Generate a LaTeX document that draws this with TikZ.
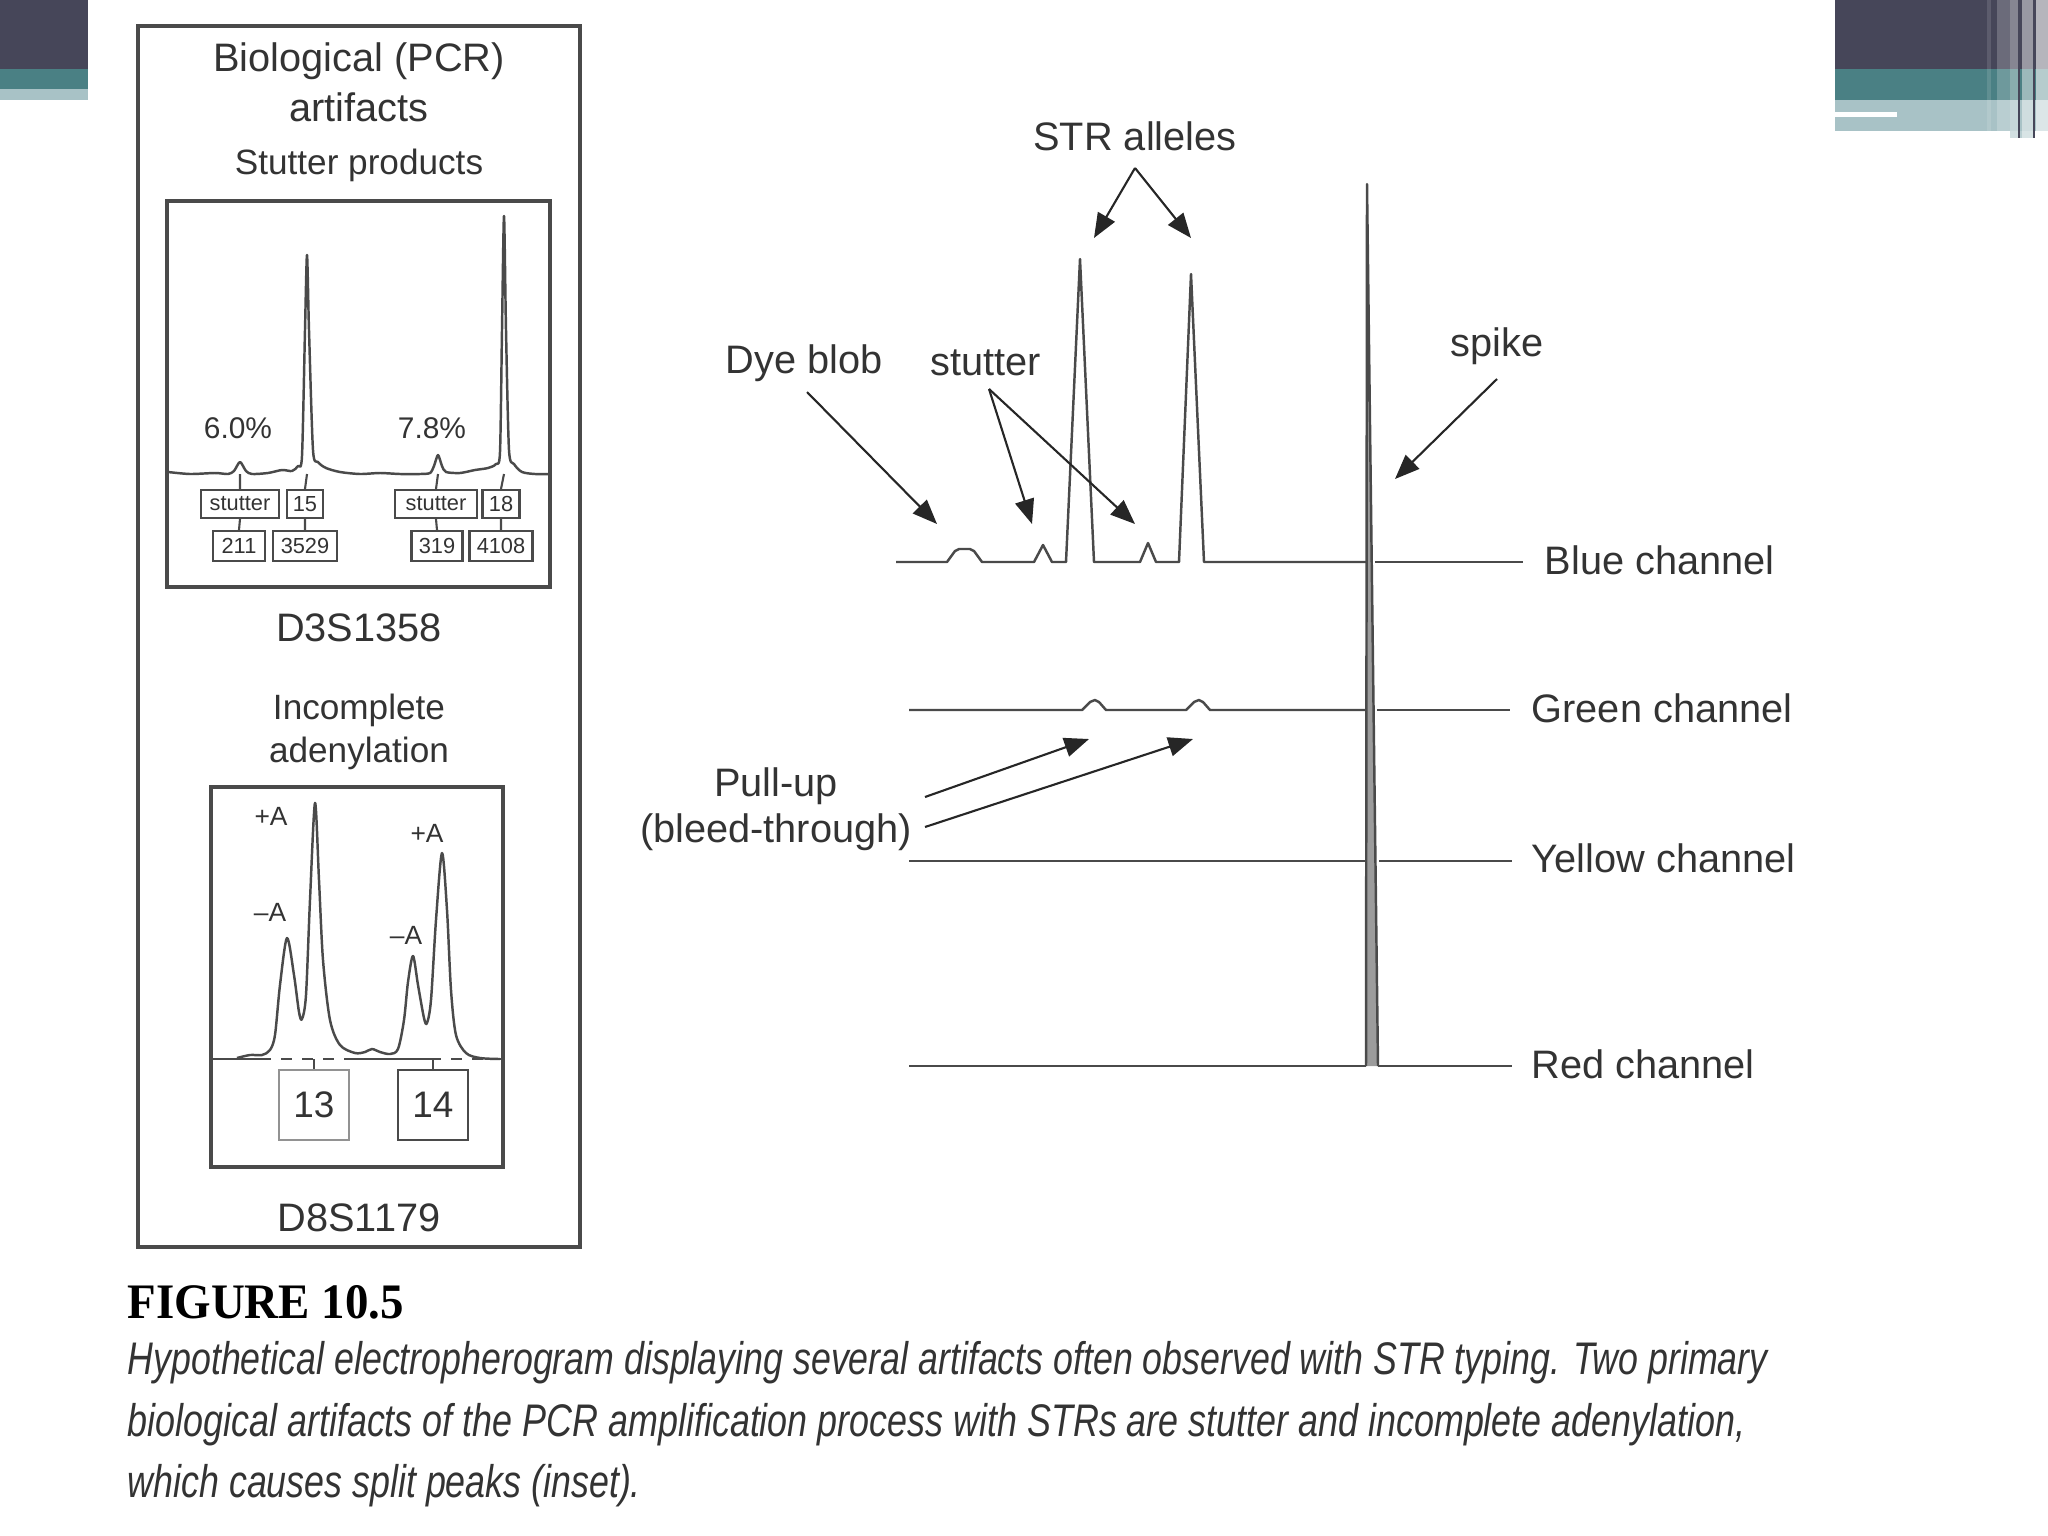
\documentclass[tikz,border=0pt]{standalone}
\usepackage{fontspec}
\usepackage{graphicx}
\setmainfont{Liberation Sans}
\newfontfamily\capserif{Liberation Serif}
\usetikzlibrary{arrows.meta}
\definecolor{ink}{HTML}{333333}
\definecolor{trc}{HTML}{4A4A4A}
\definecolor{slatedark}{HTML}{464659}
\definecolor{slateteal}{HTML}{4A8084}
\definecolor{slatelight}{HTML}{A8C2C6}
\tikzset{
  txt/.style={text=ink, inner sep=0pt, font=\fontsize{11.3}{13}\selectfont},
  smalltxt/.style={text=ink, inner sep=0pt, font=\fontsize{10}{12}\selectfont},
  frame/.style={draw=trc, line width=0.9pt},
  trace/.style={draw=trc, line width=0.7pt, line join=round},
  arr/.style={draw=black!85, line width=0.6pt, -{Triangle[length=7pt,width=5.5pt]}},
  lbl/.style={draw=trc, line width=0.6pt, inner sep=0pt, text=ink, font=\fontsize{6.2}{7}\selectfont},
  bigbox/.style={draw=trc, line width=0.8pt, inner sep=0pt, minimum width=0.70cm, minimum height=0.70cm, text=ink, font=\fontsize{10.5}{12}\selectfont},
}
\begin{document}
\begin{tikzpicture}[x=0.01cm,y=-0.01cm]
\useasboundingbox (0,0) rectangle (2048,1536);
% slide decorations
\fill[slatedark] (0,0) rectangle (88,69);
\fill[slateteal] (0,69) rectangle (88,89);
\fill[slatelight] (0,89) rectangle (88,100);
\fill[slatedark] (1835,0) rectangle (2048,69);
\fill[slateteal] (1835,69) rectangle (2048,100);
\fill[slatelight] (1835,100) rectangle (2048,131);
\fill[white] (1835,112) rectangle (1897,117);
\fill[slatelight!80] (2010,131) rectangle (2035,138);
\fill[white,opacity=0.12] (1987,0) rectangle (1991,131);
\fill[white,opacity=0.2] (1997,0) rectangle (2010,131);
\fill[white,opacity=0.35] (2010,0) rectangle (2018,138);
\fill[white,opacity=0.45] (2022,0) rectangle (2033,138);
\fill[white,opacity=0.6] (2036,0) rectangle (2048,131);
\draw[slatedark,line width=0.5pt] (2019,0) -- (2019,138);
\draw[slatedark,line width=0.5pt] (2034,0) -- (2034,138);

% ---------- left panel ----------
\draw[frame] (138,26) rectangle (580,1247);
\node[txt] (t1) at (359,61) {Biological (PCR)};
\node[txt] (t2) at (359,107) {artifacts};
\node[smalltxt] (t3) at (359,165) {Stutter products};
\draw[frame] (167,201) rectangle (550,587);
\draw[trace] plot[smooth, tension=0.45] coordinates {
 (168,472) (190,474) (215,473) (228,474) (234,471) (240,462) (246,471) (252,474)
 (268,473) (282,470) (292,471) (298,466) (302,456) (305,330) (307,255) (309,330)
 (313,450) (318,462) (326,468) (340,472) (360,474) (380,473) (400,474) (420,474)
 (430,473) (434,466) (438,455) (442,466) (446,472) (460,473) (475,470) (488,468)
 (496,464) (500,452) (502,330) (504,216) (506,330) (509,450) (514,464) (522,472)
 (535,474) (549,474)};
\node[text=ink, inner sep=0pt, font=\fontsize{8.5}{10}\selectfont] (p1) at (238,428) {6.0\%};
\node[text=ink, inner sep=0pt, font=\fontsize{8.5}{10}\selectfont] (p2) at (432,428) {7.8\%};
\node[lbl, minimum width=0.78cm, minimum height=0.28cm] (s1) at (240,504) {stutter};
\node[lbl, minimum width=0.36cm, minimum height=0.28cm] (n15) at (305,504) {15};
\node[lbl, minimum width=0.52cm, minimum height=0.30cm] (n211) at (239,546) {211};
\node[lbl, minimum width=0.64cm, minimum height=0.30cm] (n3529) at (305,546) {3529};
\node[lbl, minimum width=0.82cm, minimum height=0.28cm] (s2) at (436,504) {stutter};
\node[lbl, minimum width=0.37cm, minimum height=0.28cm] (n18) at (501,504) {18};
\node[lbl, minimum width=0.51cm, minimum height=0.30cm] (n319) at (437,546) {319};
\node[lbl, minimum width=0.63cm, minimum height=0.30cm] (n4108) at (501,546) {4108};
\coordinate (k1) at (240,474);
\coordinate (k2) at (307,474);
\coordinate (k3) at (438,474);
\coordinate (k4) at (504,474);
\draw[trc, line width=0.6pt] (k1) -- (s1.north) (s1.south) -- (n211.north);
\draw[trc, line width=0.6pt] (k2) -- (n15.north) (n15.south) -- (n3529.north);
\draw[trc, line width=0.6pt] (k3) -- (s2.north) (s2.south) -- (n319.north);
\draw[trc, line width=0.6pt] (k4) -- (n18.north) (n18.south) -- (n4108.north);
\node[txt] (loc1) at (359,628) {D3S1358};

\node[smalltxt] (t4) at (359,710) {Incomplete};
\node[smalltxt] (t5) at (359,753) {adenylation};
\draw[frame] (211,787) rectangle (503,1167);
\draw[trace] plot[smooth, tension=0.5] coordinates {
 (237,1058) (250,1055) (262,1055) (270,1050) (275,1035) (280,985) (287,938) (294,975)
 (299,1012) (302,1019) (306,995) (310,900) (315,803) (319,880) (323,960) (330,1020)
 (340,1045) (355,1053) (365,1052) (372,1049) (380,1052) (390,1054) (398,1049) (404,1020)
 (408,982) (413,956) (418,985) (424,1018) (427,1023) (431,1000) (436,920) (442,853)
 (447,910) (451,990) (456,1035) (466,1053) (480,1058) (500,1059)};
\draw[trc, line width=0.8pt] (212,1059) -- (260,1059);
\draw[trc, line width=0.8pt, dashed] (260,1059) -- (350,1059);
\draw[trc, line width=0.8pt] (350,1059) -- (430,1059);
\draw[trc, line width=0.8pt, dashed] (430,1059) -- (502,1059);
\node[text=ink, inner sep=0pt, font=\fontsize{7.5}{9}\selectfont] (pa1) at (271,816) {+A};
\node[text=ink, inner sep=0pt, font=\fontsize{7.5}{9}\selectfont] (ma1) at (270,912) {--A};
\node[text=ink, inner sep=0pt, font=\fontsize{7.5}{9}\selectfont] (pa2) at (427,833) {+A};
\node[text=ink, inner sep=0pt, font=\fontsize{7.5}{9}\selectfont] (ma2) at (406,935) {--A};
\node[bigbox, draw=trc!60] (b13) at (314,1105) {13};
\node[bigbox] (b14) at (433,1105) {14};
\coordinate (k5) at (314,1059);
\coordinate (k6) at (433,1059);
\draw[trc, line width=0.6pt] (k5) -- (b13.north);
\draw[trc, line width=0.6pt] (k6) -- (b14.north);
\node[txt] (loc2) at (359,1218) {D8S1179};

% ---------- right panel: channels ----------
\node[txt, anchor=west] (blue) at (1544,560) {Blue channel};
\node[txt, anchor=west] (green) at (1531,708) {Green channel};
\node[txt, anchor=west] (yellow) at (1531,858) {Yellow channel};
\node[txt, anchor=west] (red) at (1531,1064) {Red channel};
\coordinate (spikeL) at (1366,1066);
\coordinate (spikeT) at (1367,184);
\coordinate (spikeR) at (1378,1066);
\fill[trc!55] (spikeL) -- (spikeT) -- (spikeR) -- cycle;
\draw[trace] (spikeL) -- (spikeT) -- (spikeR);
% blue
\draw[trace] (896,562) -- (947,562) -- (955,551) -- (959,549) -- (970,549) -- (974,551) -- (982,562)
 -- (1034,562) -- (1043,545) -- (1052,562) -- (1066,562) -- (1080,259) -- (1094,562)
 -- (1140,562) -- (1148,543) -- (1156,562) -- (1179,562) -- (1191,274) -- (1204,562) -- (1366,562);
\draw[trace] (1375,562) -- (1523,562);
% green
\draw[trace] (909,710) -- (1082,710) -- (1090,702) -- (1095,700) -- (1099,702) -- (1106,710)
 -- (1186,710) -- (1194,702) -- (1199,700) -- (1203,702) -- (1210,710) -- (1366,710);
\draw[trace] (1377,710) -- (1510,710);
% yellow
\draw[trace] (909,861) -- (1366,861);
\draw[trace] (1379,861) -- (1512,861);
% red
\draw[trace] (909,1066) -- (spikeL);
\draw[trace] (spikeR) -- (1512,1066);

% annotations
\node[txt] (str) at (1135,136) {STR alleles};
\coordinate (strfoot) at (1135,168);
\coordinate (aL) at (1094,238);
\coordinate (aR) at (1191,238);
\draw[arr] (strfoot) -- (aL);
\draw[arr] (strfoot) -- (aR);

\node[txt] (dye) at (804,363) {Dye blob};
\coordinate (dyefoot) at (807,392);
\coordinate (dyetip) at (937,524);
\draw[arr] (dyefoot) -- (dyetip);

\node[txt] (stu) at (986,363) {stutter};
\coordinate (stufoot) at (989,389);
\coordinate (stutip1) at (1032,524);
\coordinate (stutip2) at (1135,524);
\draw[arr] (stufoot) -- (stutip1);
\draw[arr] (stufoot) -- (stutip2);

\node[txt] (spk) at (1497,346) {spike};
\coordinate (spkfoot) at (1497,379);
\coordinate (spktip) at (1395,479);
\draw[arr] (spkfoot) -- (spktip);

\node[txt] (pull) at (776,786) {Pull-up};
\node[txt] (bleed) at (776,832) {(bleed-through)};
\coordinate (pf1) at (925,797);
\coordinate (pf2) at (925,827);
\coordinate (pt1) at (1089,739);
\coordinate (pt2) at (1193,739);
\draw[arr] (pf1) -- (pt1);
\draw[arr] (pf2) -- (pt2);

% caption
\node[anchor=west, inner sep=0pt, text=black] (fig) at (127,1302)
  {\resizebox{2.76cm}{0.33cm}{\capserif\bfseries\fontsize{14}{16}\selectfont FIGURE 10.5}};
\node[anchor=west, inner sep=0pt, text=ink] (c1) at (127,1363)
  {\resizebox{16.39cm}{\height}{\itshape\fontsize{13}{15}\selectfont Hypothetical electropherogram displaying several artifacts often observed with STR typing. Two primary}};
\node[anchor=west, inner sep=0pt, text=ink] (c2) at (127,1425)
  {\resizebox{16.17cm}{\height}{\itshape\fontsize{13}{15}\selectfont biological artifacts of the PCR amplification process with STRs are stutter and incomplete adenylation,}};
\node[anchor=west, inner sep=0pt, text=ink] (c3) at (127,1486)
  {\resizebox{5.13cm}{\height}{\itshape\fontsize{13}{15}\selectfont which causes split peaks (inset).}};
\end{tikzpicture}
\end{document}
